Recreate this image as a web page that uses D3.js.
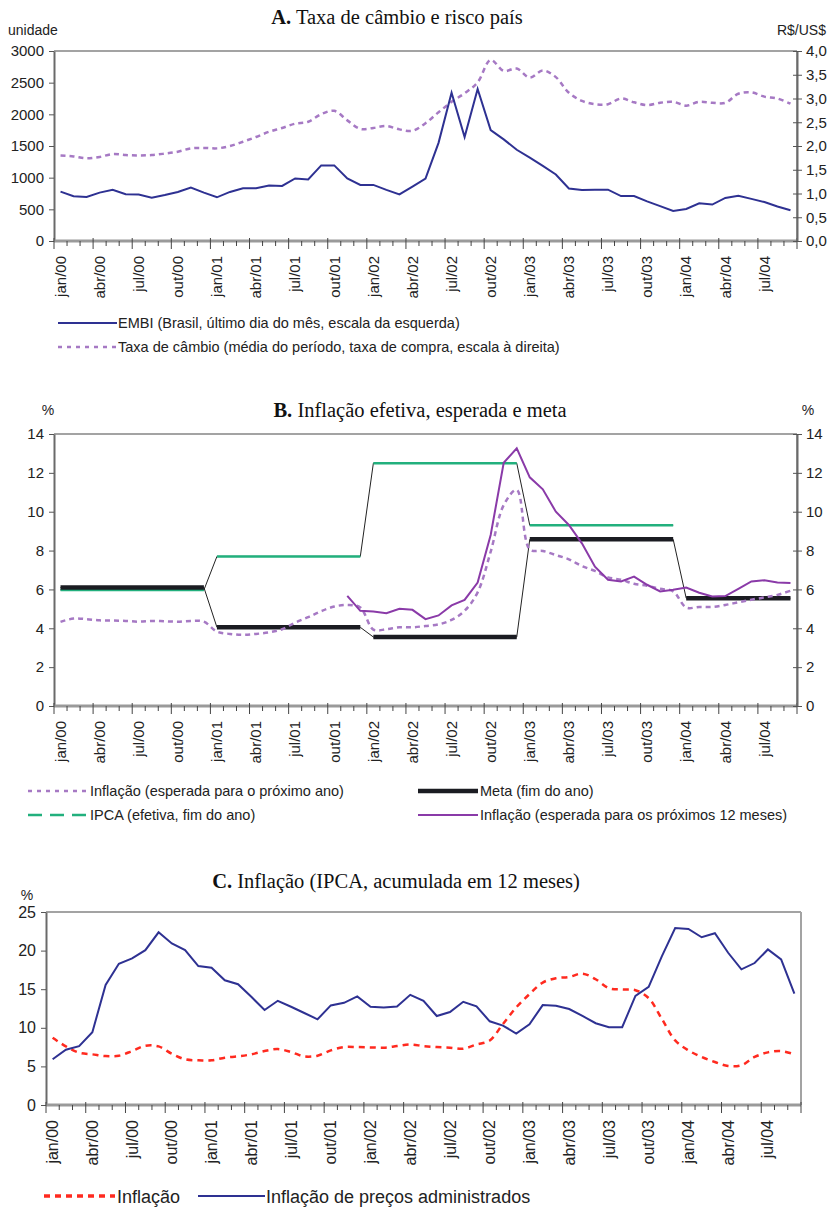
<!DOCTYPE html>
<html>
<head>
<meta charset="utf-8">
<script src="https://cdn.jsdelivr.net/npm/d3@7"></script>
<style>
  body { margin: 0; background: #fff; }
  svg { display: block; }
</style>
</head>
<body>
<div id="chart"></div>
<script>
// categorias mensais jan/00 .. set/04
const months = [
  "jan/00","fev/00","mar/00","abr/00","mai/00","jun/00","jul/00","ago/00","set/00","out/00","nov/00","dez/00",
  "jan/01","fev/01","mar/01","abr/01","mai/01","jun/01","jul/01","ago/01","set/01","out/01","nov/01","dez/01",
  "jan/02","fev/02","mar/02","abr/02","mai/02","jun/02","jul/02","ago/02","set/02","out/02","nov/02","dez/02",
  "jan/03","fev/03","mar/03","abr/03","mai/03","jun/03","jul/03","ago/03","set/03","out/03","nov/03","dez/03",
  "jan/04","fev/04","mar/04","abr/04","mai/04","jun/04","jul/04","ago/04","set/04"
];
const tickLabels = [
  "jan/00","abr/00","jul/00","out/00","jan/01","abr/01","jul/01","out/01","jan/02","abr/02",
  "jul/02","out/02","jan/03","abr/03","jul/03","out/03","jan/04","abr/04","jul/04"
];

// A. EMBI (unidade) e taxa de câmbio (R$/US$)
const embi = [
  780, 706, 695, 764, 807, 738, 733, 685, 727, 775, 844, 764,
  690, 775, 833, 833, 876, 870, 987, 971, 1194, 1194, 987, 886,
  886, 807, 737, 860, 985, 1550, 2340, 1640, 2400, 1750, 1605, 1440,
  1315, 1185, 1050, 830, 805, 810, 810, 710, 710, 625, 550, 475,
  505, 595, 575, 680, 715, 665, 615, 545, 485
];
const cambio = [
  1.80, 1.78, 1.74, 1.77, 1.83, 1.81, 1.80, 1.81, 1.84, 1.88, 1.95, 1.96,
  1.95, 2.00, 2.09, 2.19, 2.30, 2.38, 2.47, 2.51, 2.67, 2.74, 2.54, 2.36,
  2.38, 2.42, 2.35, 2.32, 2.48, 2.71, 2.93, 3.11, 3.34, 3.81, 3.58, 3.63,
  3.44, 3.59, 3.45, 3.12, 2.95, 2.88, 2.88, 3.00, 2.92, 2.86, 2.91, 2.93,
  2.85, 2.93, 2.91, 2.91, 3.10, 3.13, 3.04, 3.00, 2.89
];

// B. Inflação efetiva, esperada e meta (%)
const years = ["2000", "2001", "2002", "2003", "2004"];
const meta = [6.1, 4.05, 3.55, 8.58, 5.55];
const ipcaAno = [5.97, 7.7, 12.5, 9.3];
const espProxAno = [
  4.33, 4.5, 4.47, 4.41, 4.4, 4.38, 4.34, 4.38, 4.36, 4.34, 4.38, 4.34,
  3.83, 3.71, 3.66, 3.71, 3.79, 3.95, 4.29, 4.57, 4.88, 5.12, 5.2, 5.07,
  3.93, 3.95, 4.05, 4.05, 4.12, 4.2, 4.43, 4.9, 5.85, 7.94, 10.34, 11.12,
  8.06, 7.98, 7.77, 7.55, 7.2, 6.95, 6.62, 6.5, 6.29, 6.19, 6.03, 5.9,
  5.07, 5.1, 5.1, 5.2, 5.34, 5.47, 5.59, 5.72, 5.93
];
const esp12m = [
  null, null, null, null, null, null, null, null, null, null, null, null,
  null, null, null, null, null, null, null, null, null, null, 5.67, 4.9,
  4.86, 4.78, 5.0, 4.95, 4.47, 4.66, 5.18, 5.46, 6.35, 8.8, 12.52, 13.26,
  11.77, 11.15, 10.0, 9.32, 8.37, 7.17, 6.5, 6.41, 6.66, 6.24, 5.9, 5.98,
  6.1, 5.83, 5.64, 5.66, 6.03, 6.41, 6.47, 6.36, 6.33
];

// C. Inflação (IPCA, acumulada em 12 meses)
const inflacao = [
  8.7, 7.59, 6.77, 6.56, 6.34, 6.39, 6.99, 7.67, 7.59, 6.64, 5.92, 5.79,
  5.79, 6.13, 6.3, 6.56, 6.99, 7.24, 6.86, 6.3, 6.39, 7.07, 7.5, 7.5,
  7.46, 7.42, 7.63, 7.84, 7.63, 7.5, 7.42, 7.29, 7.84, 8.36, 10.5, 12.64,
  14.36, 15.86, 16.42, 16.59, 17.02, 16.29, 15.13, 14.96, 14.87, 13.84, 11.14, 8.36,
  7.07, 6.22, 5.57, 5.06, 5.14, 6.22, 6.82, 6.99, 6.56
];
const administrados = [
  5.92, 7.16, 7.63, 9.43, 15.56, 18.3, 18.99, 20.06, 22.37, 20.92, 20.06, 18.0,
  17.79, 16.16, 15.64, 14.02, 12.3, 13.5, 12.73, 11.92, 11.1, 12.9, 13.24, 14.06,
  12.73, 12.64, 12.77, 14.27, 13.5, 11.53, 12.04, 13.37, 12.77, 10.84, 10.29, 9.26,
  10.46, 12.94, 12.86, 12.43, 11.53, 10.59, 10.07, 10.07, 14.14, 15.3, 19.29, 22.93,
  22.8, 21.73, 22.25, 19.72, 17.57, 18.39, 20.15, 18.86, 14.44
];

const W = 834, H = 1210;
const SANS = '"Liberation Sans", Arial, sans-serif';
const SERIF = '"Liberation Serif", "Times New Roman", serif';

const navy = "#2e3192";
const lilac = "#a679c4";
const purple = "#8a3aa8";
const green = "#22b07d";
const red = "#ff2a1f";

const svg = d3.select("#chart").append("svg")
  .attr("width", W).attr("height", H)
  .style("background", "#fff");

const comma = f => (d => d3.format(f)(d).replace(".", ","));

function title(xc, yb, bold, rest) {
  const t = svg.append("text")
    .attr("x", xc).attr("y", yb)
    .attr("text-anchor", "middle")
    .style("font-family", SERIF).style("font-size", "20.5px").attr("fill", "#111");
  t.append("tspan").style("font-weight", "bold").text(bold);
  t.append("tspan").text(" " + rest);
}

function label(x, y, txt, anchor, size) {
  svg.append("text").attr("x", x).attr("y", y)
    .attr("text-anchor", anchor || "start")
    .style("font-family", SANS).style("font-size", (size || 14) + "px")
    .attr("fill", "#222").text(txt);
}

// monta um painel: escalas, bordas, eixo x com rótulos girados
function panel(p, yDomain, yTicks, yFmt, fontSize) {
  const x = d3.scaleBand().domain(months).range([p.left, p.right]);
  const cx = m => x(m) + x.bandwidth() / 2;
  const y = d3.scaleLinear().domain(yDomain).range([p.bottom, p.top]);
  const g = svg.append("g");

  // bordas superior e direita
  g.append("line").attr("x1", p.left).attr("x2", p.right).attr("y1", p.top).attr("y2", p.top)
    .attr("stroke", "#a3a3a3").attr("stroke-width", 2);
  g.append("line").attr("x1", p.right).attr("x2", p.right).attr("y1", p.top).attr("y2", p.bottom)
    .attr("stroke", "#a3a3a3").attr("stroke-width", 2);

  // eixo esquerdo
  const ax = g.append("g").attr("transform", `translate(${p.left},0)`)
    .call(d3.axisLeft(y).tickValues(yTicks).tickSize(5).tickSizeOuter(0).tickPadding(5).tickFormat(yFmt));
  ax.select(".domain").attr("stroke", "#6a6a6a").attr("stroke-width", 2);
  ax.selectAll(".tick line").attr("stroke", "#555");
  ax.selectAll(".tick text").style("font-family", SANS).style("font-size", fontSize + "px").attr("fill", "#222");

  // linha de base
  g.append("line").attr("x1", p.left).attr("x2", p.right).attr("y1", p.bottom).attr("y2", p.bottom)
    .attr("stroke", "#9a9a9a").attr("stroke-width", 3);

  // marcas mensais (limites das categorias)
  const bounds = months.map(m => x(m)).concat([p.right]);
  g.append("g").selectAll("line").data(bounds).join("line")
    .attr("x1", d => d).attr("x2", d => d)
    .attr("y1", (d, i) => i % 3 === 0 ? p.bottom - 3 : p.bottom)
    .attr("y2", (d, i) => i % 3 === 0 ? p.bottom + 8 : p.bottom + 5)
    .attr("stroke", "#444").attr("stroke-width", 1);

  // rótulos do eixo x
  const bx = g.append("g").attr("transform", `translate(0,${p.bottom})`)
    .call(d3.axisBottom(x).tickValues(tickLabels).tickSize(0));
  bx.select(".domain").remove();
  bx.selectAll(".tick text")
    .attr("transform", "rotate(-90)")
    .attr("text-anchor", "end")
    .attr("x", -15).attr("y", 0).attr("dy", "0.35em")
    .style("font-family", SANS).style("font-size", fontSize + "px").attr("fill", "#222");

  return { x, cx, y, g };
}

function rightAxis(P, p, y, ticks, fmt, fontSize) {
  const ax = P.g.append("g").attr("transform", `translate(${p.right},0)`)
    .call(d3.axisRight(y).tickValues(ticks).tickSize(5).tickSizeOuter(0).tickPadding(4).tickFormat(fmt));
  ax.select(".domain").attr("stroke", "#6a6a6a").attr("stroke-width", 2);
  ax.selectAll(".tick line").attr("x1", -4).attr("stroke", "#555");
  ax.selectAll(".tick text").style("font-family", SANS).style("font-size", fontSize + "px").attr("fill", "#222");
}

function legendLine(x1, x2, yy, color, width, dash) {
  svg.append("line").attr("x1", x1).attr("x2", x2).attr("y1", yy).attr("y2", yy)
    .attr("stroke", color).attr("stroke-width", width)
    .attr("stroke-dasharray", dash || null);
}

// ---------------- Painel A ----------------
const pA = { left: 54, right: 797, top: 51, bottom: 241 };
title(397, 24, "A.", "Taxa de câmbio e risco país");
label(8, 35, "unidade", "start", 14);
label(826, 35, "R$/US$", "end", 14);
const A = panel(pA, [0, 3000], [0, 500, 1000, 1500, 2000, 2500, 3000], d3.format("d"), 15);
const yA2 = d3.scaleLinear().domain([0, 4]).range([pA.bottom, pA.top]);
rightAxis(A, pA, yA2, [0, 0.5, 1, 1.5, 2, 2.5, 3, 3.5, 4], comma(".1f"), 15);

A.g.append("path").datum(cambio)
  .attr("fill", "none").attr("stroke", lilac).attr("stroke-width", 2.5)
  .attr("stroke-dasharray", "5,4")
  .attr("d", d3.line().x((d, i) => A.cx(months[i])).y(d => yA2(d)).curve(d3.curveCatmullRom));
A.g.append("path").datum(embi)
  .attr("fill", "none").attr("stroke", navy).attr("stroke-width", 2)
  .attr("d", d3.line().x((d, i) => A.cx(months[i])).y(d => A.y(d)));

legendLine(58, 117, 323, navy, 2);
label(118, 328, "EMBI (Brasil, último dia do mês, escala da esquerda)", "start", 14.5);
legendLine(58, 117, 347, lilac, 2.5, "4,5");
label(118, 352, "Taxa de câmbio (média do período, taxa de compra, escala à direita)", "start", 14.5);

// ---------------- Painel B ----------------
const pB = { left: 54, right: 797, top: 434, bottom: 706 };
title(420, 417, "B.", "Inflação efetiva, esperada e meta");
label(48, 415, "%", "middle", 14);
label(808, 415, "%", "middle", 14);
const B = panel(pB, [0, 14], [0, 2, 4, 6, 8, 10, 12, 14], d3.format("d"), 15);
rightAxis(B, pB, B.y, [0, 2, 4, 6, 8, 10, 12, 14], d3.format("d"), 15);

const metaMes = months.map((m, i) => meta[Math.floor(i / 12)]);
const ipcaMes = months.slice(0, 48).map((m, i) => ipcaAno[Math.floor(i / 12)]);
const lineB = d3.line().defined(d => d != null).x((d, i) => B.cx(months[i])).y(d => B.y(d));

// ligações finas entre os anos
B.g.append("path").datum(ipcaMes).attr("fill", "none").attr("stroke", "#222").attr("stroke-width", 1).attr("d", lineB);
B.g.append("path").datum(metaMes).attr("fill", "none").attr("stroke", "#222").attr("stroke-width", 1).attr("d", lineB);

// segmentos anuais
function yearSeg(vals, color, width) {
  B.g.append("g").selectAll("line").data(vals).join("line")
    .attr("x1", (d, k) => B.cx(months[k * 12]))
    .attr("x2", (d, k) => B.cx(months[Math.min(k * 12 + 11, months.length - 1)]))
    .attr("y1", d => B.y(d)).attr("y2", d => B.y(d))
    .attr("stroke", color).attr("stroke-width", width);
}
yearSeg(ipcaAno, green, 2.5);
yearSeg(meta, "#1b1c22", 4.5);

B.g.append("path").datum(espProxAno)
  .attr("fill", "none").attr("stroke", lilac).attr("stroke-width", 2.5)
  .attr("stroke-dasharray", "5,4")
  .attr("d", d3.line().x((d, i) => B.cx(months[i])).y(d => B.y(d)).curve(d3.curveCatmullRom));
B.g.append("path").datum(esp12m)
  .attr("fill", "none").attr("stroke", purple).attr("stroke-width", 2)
  .attr("d", lineB);

legendLine(28, 88, 791, lilac, 2.5, "4,5");
label(90, 796, "Inflação (esperada para o próximo ano)", "start", 14.5);
legendLine(418, 478, 791, "#1b1c22", 4.5);
label(480, 796, "Meta (fim do ano)", "start", 14.5);
legendLine(28, 88, 815, green, 2.5, "14,8");
label(90, 820, "IPCA (efetiva, fim do ano)", "start", 14.5);
legendLine(418, 478, 815, purple, 2);
label(480, 820, "Inflação (esperada para os próximos 12 meses)", "start", 14.5);

// ---------------- Painel C ----------------
const pC = { left: 46, right: 801, top: 912, bottom: 1105 };
title(396, 888, "C.", "Inflação (IPCA, acumulada em 12 meses)");
label(27, 900, "%", "middle", 14);
const C = panel(pC, [0, 25], [0, 5, 10, 15, 20, 25], d3.format("d"), 16);

C.g.append("path").datum(inflacao)
  .attr("fill", "none").attr("stroke", red).attr("stroke-width", 2.5)
  .attr("stroke-dasharray", "6,5")
  .attr("d", d3.line().x((d, i) => C.cx(months[i])).y(d => C.y(d)).curve(d3.curveCatmullRom));
C.g.append("path").datum(administrados)
  .attr("fill", "none").attr("stroke", navy).attr("stroke-width", 2)
  .attr("d", d3.line().x((d, i) => C.cx(months[i])).y(d => C.y(d)));

legendLine(44, 115, 1196, red, 3.5, "6,5");
label(117, 1203, "Inflação", "start", 18);
legendLine(198, 265, 1196, navy, 2);
label(266, 1203, "Inflação de preços administrados", "start", 18);
</script>
</body>
</html>
